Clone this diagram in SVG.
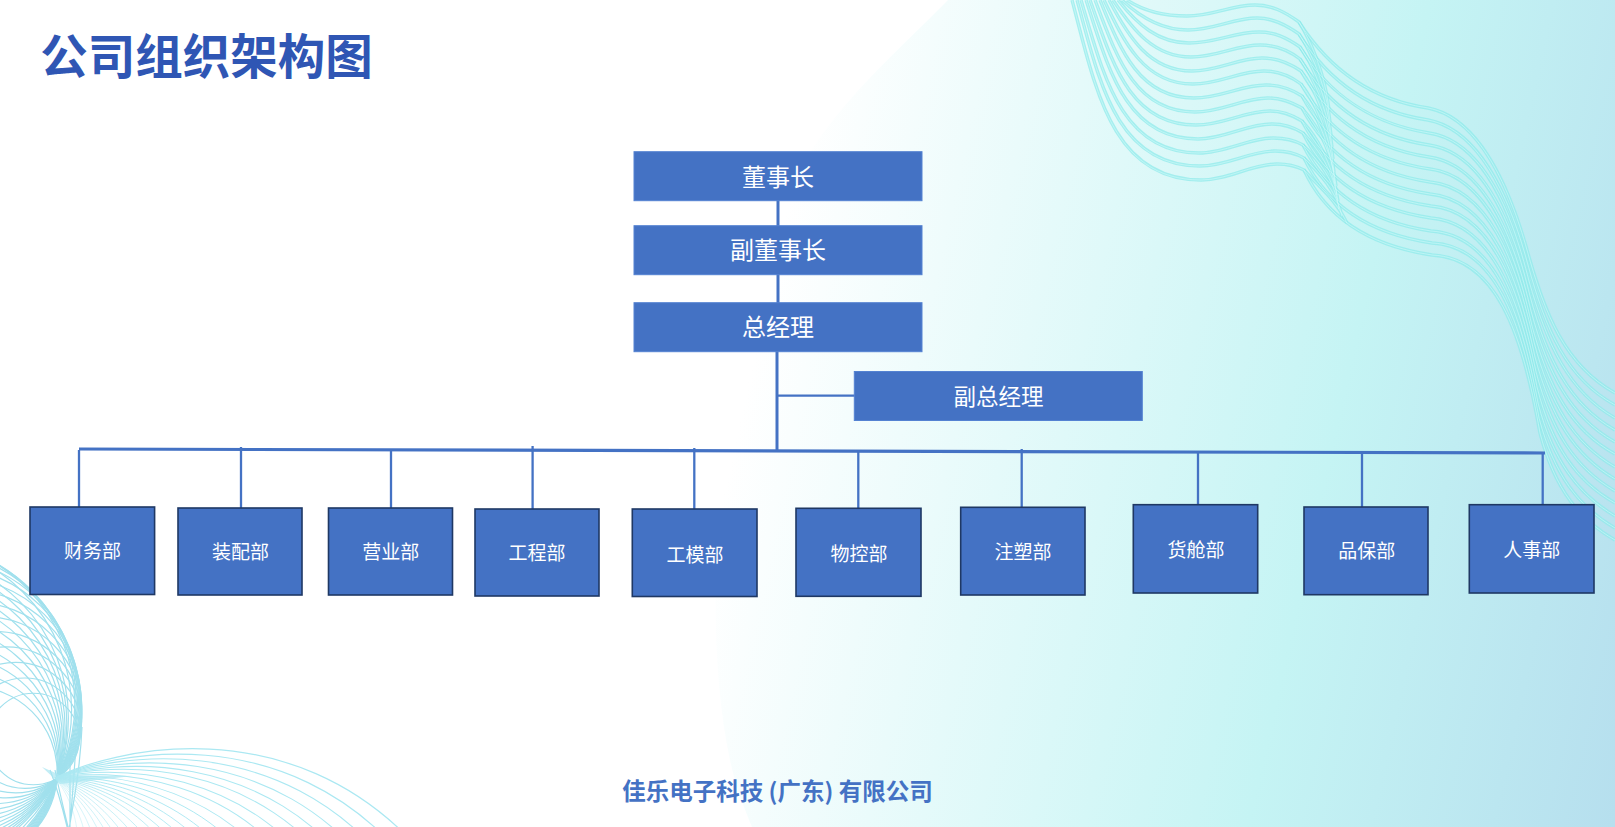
<svg xmlns="http://www.w3.org/2000/svg" width="1615" height="827" viewBox="0 0 1615 827">
<style>
text{font-family:"Noto Sans CJK SC","Liberation Sans",sans-serif;text-anchor:middle;dominant-baseline:central}
.title{font-size:47.5px;font-weight:700;fill:#2f56b4}
.foot{font-size:23.5px;font-weight:700;fill:#4472c4}
.n{fill:#4472c4;stroke:#5482d2;stroke-width:1}
.d{fill:#4472c4;stroke:#1f3864;stroke-width:1.6}
.nt{font-size:24px;fill:#fff}
.nv{font-size:22.5px;fill:#fff}
.dt{font-size:19px;fill:#fff}
.c{stroke:#4472c4;fill:none;stroke-width:2.3}
.t{stroke-width:3}
.bus{stroke-width:3.2}
.wa{fill:none;stroke:#8eeaea;stroke-opacity:.72;stroke-width:3.4}
.wb{fill:none;stroke:#d8fbfb;stroke-opacity:.6;stroke-width:.9}
#spiro-ball circle,#spiro-ball path{fill:none;stroke:#a0e0ed;stroke-width:1.2}
.sq{fill:none;stroke:#abe8f2;stroke-width:1.2;vector-effect:non-scaling-stroke}
</style>
<defs>
<linearGradient id="bg" gradientUnits="userSpaceOnUse" x1="700" y1="600" x2="1619" y2="803">
<stop offset="0" stop-color="#fff"/><stop offset=".62" stop-color="#c5f4f4"/><stop offset="1" stop-color="#b6dfee"/>
</linearGradient>
<g id="waves">
<path d="M1127,0 C1145,12 1168,16 1187,16 C1212,16 1232,5 1255,5 C1272,5 1285,12 1299,22 C1322,58 1360,98 1428,108 C1480,118 1510,190 1527,250 C1545,315 1565,365 1615,393"/>
<path d="M1122,0 C1141,18 1163,30 1188,30 C1213,30 1234,18 1257,18 C1273,18 1286,25 1299,34 C1322,71 1360,110 1428,120 C1481,130 1511,202 1528,265 C1546,330 1566,378 1615,405"/>
<path d="M1118,0 C1137,24 1158,43 1189,43 C1215,43 1235,32 1259,32 C1275,32 1287,38 1300,47 C1322,84 1361,122 1429,133 C1483,141 1512,213 1529,281 C1547,344 1568,391 1615,418"/>
<path d="M1113,0 C1133,30 1154,57 1191,57 C1216,57 1237,45 1260,45 C1276,45 1288,50 1300,59 C1323,97 1361,135 1429,145 C1484,153 1513,225 1530,296 C1547,359 1569,404 1615,430"/>
<path d="M1109,0 C1128,36 1149,71 1192,71 C1217,71 1239,58 1262,58 C1277,58 1289,63 1301,71 C1323,110 1362,147 1429,157 C1485,165 1514,237 1531,311 C1548,373 1570,417 1615,442"/>
<path d="M1104,0 C1124,42 1144,84 1193,84 C1219,84 1240,71 1264,71 C1279,71 1290,76 1301,84 C1323,123 1362,159 1430,169 C1486,176 1515,248 1532,326 C1549,388 1571,430 1615,454"/>
<path d="M1100,0 C1120,49 1139,98 1194,98 C1220,98 1242,85 1266,85 C1280,85 1291,89 1302,96 C1324,137 1363,172 1430,182 C1488,188 1516,260 1534,342 C1550,403 1573,443 1615,467"/>
<path d="M1095,0 C1116,55 1134,112 1195,112 C1221,112 1244,98 1268,98 C1281,98 1291,102 1302,108 C1324,150 1363,184 1430,194 C1489,200 1517,272 1535,357 C1551,417 1574,455 1615,479"/>
<path d="M1090,0 C1112,61 1129,125 1196,125 C1223,125 1245,111 1270,111 C1283,111 1292,115 1302,121 C1324,163 1363,196 1431,206 C1490,211 1518,283 1536,372 C1552,432 1575,468 1615,491"/>
<path d="M1086,0 C1108,67 1125,139 1198,139 C1224,139 1247,124 1272,124 C1284,124 1293,127 1303,133 C1324,176 1364,208 1431,218 C1491,223 1519,295 1537,387 C1552,446 1576,481 1615,503"/>
<path d="M1081,0 C1103,73 1120,153 1199,153 C1225,153 1249,138 1273,138 C1285,138 1294,140 1303,145 C1325,189 1364,221 1431,231 C1493,235 1520,307 1538,403 C1553,461 1578,494 1615,516"/>
<path d="M1077,0 C1099,79 1115,166 1200,166 C1227,166 1250,151 1275,151 C1287,151 1295,153 1304,158 C1325,202 1365,233 1432,243 C1494,246 1521,318 1539,418 C1554,475 1579,507 1615,528"/>
<path d="M1072,0 C1095,85 1110,180 1201,180 C1228,180 1252,164 1277,164 C1288,164 1296,166 1304,170 C1325,215 1365,245 1432,255 C1495,258 1522,330 1540,433 C1555,490 1580,520 1615,540"/>
<path d="M1299,22 c10,16 26,50 30,88 M1299,34 c11,16 27,50 31,88 M1300,47 c12,16 27,50 31,88 M1300,59 c12,16 28,50 32,88 M1301,71 c13,16 28,50 32,88 M1301,84 c13,16 29,50 33,88 M1302,96 c14,16 29,50 33,88 M1302,108 c14,16 30,42 34,78 M1302,121 c15,16 30,42 35,74 M1303,133 c15,16 31,38 35,68 M1303,145 c16,16 32,36 36,64 M1304,158 c16,16 32,32 38,58 M1304,170 c16,18 32,30 43,53"/>
</g>
<path id="arcR" d="M55,778 C110,750 290,705 420,850"/>
</defs>
<rect width="1615" height="827" fill="#fff"/>
<path id="backdrop" d="M948,0 C880,70 800,130 760,260 C720,400 700,620 730,760 C735,785 745,810 752,827 L1615,827 L1615,0 Z" fill="url(#bg)"/>
<g id="wave-lines">
<use href="#waves" class="wa"/>
<use href="#waves" class="wb"/>
</g>
<g id="spiro-ball">
<circle cx="-94.9" cy="709.7" r="166.5"/>
<circle cx="-89" cy="703.8" r="163.8"/>
<circle cx="-95.4" cy="718" r="163.8"/>
<circle cx="-84.2" cy="701.9" r="160.4"/>
<circle cx="-93.6" cy="722.9" r="160.4"/>
<circle cx="-78.2" cy="700.7" r="155.7"/>
<circle cx="-90.6" cy="728.1" r="155.7"/>
<circle cx="-71.2" cy="700.3" r="149.8"/>
<circle cx="-86.2" cy="733.7" r="149.8"/>
<circle cx="-63.2" cy="700.6" r="142.9"/>
<circle cx="-80.6" cy="739.4" r="142.9"/>
<circle cx="-54.4" cy="701.8" r="135"/>
<circle cx="-74" cy="745.2" r="135"/>
<circle cx="-45" cy="703.6" r="126.25"/>
<circle cx="-66.4" cy="751" r="126.25"/>
<circle cx="-35.1" cy="706.2" r="116.8"/>
<circle cx="-57.9" cy="756.8" r="116.8"/>
<circle cx="-24.9" cy="709.4" r="106.8"/>
<circle cx="-48.7" cy="762.4" r="106.8"/>
<circle cx="-14.6" cy="713.2" r="96.5"/>
<circle cx="-39" cy="767.6" r="96.5"/>
<circle cx="-4.2" cy="717.6" r="86"/>
<circle cx="-28.8" cy="772.4" r="86"/>
<circle cx="6" cy="722.4" r="75.5"/>
<circle cx="15.7" cy="727.6" r="65.2"/>
<circle cx="24.9" cy="733.2" r="55.2"/>
<circle cx="33.4" cy="739" r="45.75"/>
<path d="M82,727 C80,770 74,800 68,835 M76,745 C74,775 72,805 69,835 M70,752 C70,780 70,805 70,835 M50,770 C56,785 62,805 69,835 M55,770 C59,790 64,810 70,835"/>
</g>
<g id="spiro-right">
<path d="M42,767 L60,775 L133,776 L60,784 Z" fill="#a9e6f1" fill-opacity=".7"/>
<use href="#arcR" class="sq"/>
<use href="#arcR" class="sq" transform="translate(55 778) rotate(2) scale(.97) translate(-55 -778)"/>
<use href="#arcR" class="sq" transform="translate(55 778) rotate(4) scale(.94) translate(-55 -778)"/>
<use href="#arcR" class="sq" transform="translate(55 778) rotate(6) scale(.91) translate(-55 -778)"/>
<use href="#arcR" class="sq" transform="translate(55 778) rotate(8) scale(.88) translate(-55 -778)"/>
<use href="#arcR" class="sq" transform="translate(55 778) rotate(10) scale(.85) translate(-55 -778)"/>
<use href="#arcR" class="sq" transform="translate(55 778) rotate(12.5) scale(.82) translate(-55 -778)"/>
<use href="#arcR" class="sq" transform="translate(55 778) rotate(15) scale(.79) translate(-55 -778)"/>
<use href="#arcR" class="sq" transform="translate(55 778) rotate(18) scale(.76) translate(-55 -778)"/>
<use href="#arcR" class="sq" transform="translate(55 778) rotate(21) scale(.73) translate(-55 -778)"/>
<use href="#arcR" class="sq" transform="translate(55 778) rotate(24) scale(.7) translate(-55 -778)"/>
<use href="#arcR" class="sq" transform="translate(55 778) rotate(27) scale(.67) translate(-55 -778)"/>
<use href="#arcR" class="sq" transform="translate(55 778) rotate(30) scale(.64) translate(-55 -778)"/>
<use href="#arcR" class="sq" transform="translate(55 778) rotate(33) scale(.61) translate(-55 -778)"/>
<use href="#arcR" class="sq" transform="translate(55 778) rotate(36) scale(.58) translate(-55 -778)"/>
<use href="#arcR" class="sq" transform="translate(55 778) rotate(40) scale(.55) translate(-55 -778)"/>
<use href="#arcR" class="sq" transform="translate(55 778) rotate(44) scale(.52) translate(-55 -778)"/>
<use href="#arcR" class="sq" transform="translate(55 778) rotate(48) scale(.49) translate(-55 -778)"/>
<use href="#arcR" class="sq" transform="translate(55 778) rotate(52) scale(.46) translate(-55 -778)"/>
<use href="#arcR" class="sq" transform="translate(55 778) rotate(56) scale(.43) translate(-55 -778)"/>
<use href="#arcR" class="sq" transform="translate(55 778) rotate(60) scale(.4) translate(-55 -778)"/>
<use href="#arcR" class="sq" transform="translate(55 778) rotate(65) scale(.37) translate(-55 -778)"/>
<use href="#arcR" class="sq" transform="translate(55 778) rotate(70) scale(.34) translate(-55 -778)"/>
<use href="#arcR" class="sq" transform="translate(55 778) rotate(75) scale(.3) translate(-55 -778)"/>
</g>
<text class="title" x="206.5" y="53">公司组织架构图</text>
<g id="connectors">
<path class="c t" d="M778,200 V226"/>
<path class="c t" d="M778,274 V303"/>
<path class="c t" d="M777,351 V451"/>
<path class="c" d="M777,395.7 H855"/>
<path class="c bus" d="M79,449 L1545,453"/>
<path class="c" d="M79,450 V507"/>
<path class="c" d="M241,447 V508"/>
<path class="c" d="M391,451 V508"/>
<path class="c" d="M532.6,446 V509"/>
<path class="c" d="M694.3,448 V509"/>
<path class="c" d="M858.3,450 V508"/>
<path class="c" d="M1021.7,449 V507"/>
<path class="c" d="M1198,452 V505"/>
<path class="c" d="M1362,453 V507"/>
<path class="c" d="M1542.7,453 V505"/>
</g>
<g id="n-chairman"><rect class="n" x="634" y="151.7" width="288" height="49"/><text class="nt" x="778" y="175.2">董事长</text></g>
<g id="n-vice-chairman"><rect class="n" x="634" y="225.7" width="288" height="49"/><text class="nt" x="778" y="248.5">副董事长</text></g>
<g id="n-gm"><rect class="n" x="634" y="302.7" width="288" height="49"/><text class="nt" x="778" y="325.2">总经理</text></g>
<g id="n-vgm"><rect class="n" x="854.3" y="371.5" width="288" height="49"/><text class="nv" x="998.6" y="395">副总经理</text></g>
<g id="d-finance"><rect class="d" x="30" y="507" width="124.6" height="87.5"/><text class="dt" x="92.5" y="549.7">财务部</text></g>
<g id="d-assembly"><rect class="d" x="178" y="508" width="124" height="87"/><text class="dt" x="240.4" y="550.7">装配部</text></g>
<g id="d-sales"><rect class="d" x="328.5" y="508" width="124" height="87"/><text class="dt" x="390.7" y="550.7">营业部</text></g>
<g id="d-engineering"><rect class="d" x="475" y="509" width="124" height="87"/><text class="dt" x="537" y="551.7">工程部</text></g>
<g id="d-mold"><rect class="d" x="632.3" y="509" width="124.7" height="87.5"/><text class="dt" x="695" y="553">工模部</text></g>
<g id="d-material"><rect class="d" x="796" y="508.3" width="125" height="88"/><text class="dt" x="859" y="552.5">物控部</text></g>
<g id="d-molding"><rect class="d" x="960.7" y="507.3" width="124.3" height="87.7"/><text class="dt" x="1023" y="550.3">注塑部</text></g>
<g id="d-cargo"><rect class="d" x="1133.3" y="504.7" width="124.4" height="88.3"/><text class="dt" x="1196" y="548">货舱部</text></g>
<g id="d-quality"><rect class="d" x="1304" y="507" width="124" height="87.7"/><text class="dt" x="1366.7" y="549.7">品保部</text></g>
<g id="d-hr"><rect class="d" x="1469.3" y="504.7" width="124.7" height="88.3"/><text class="dt" x="1531.7" y="548">人事部</text></g>
<text class="foot" x="777.5" y="789.7">佳乐电子科技 (广东) 有限公司</text>
</svg>
